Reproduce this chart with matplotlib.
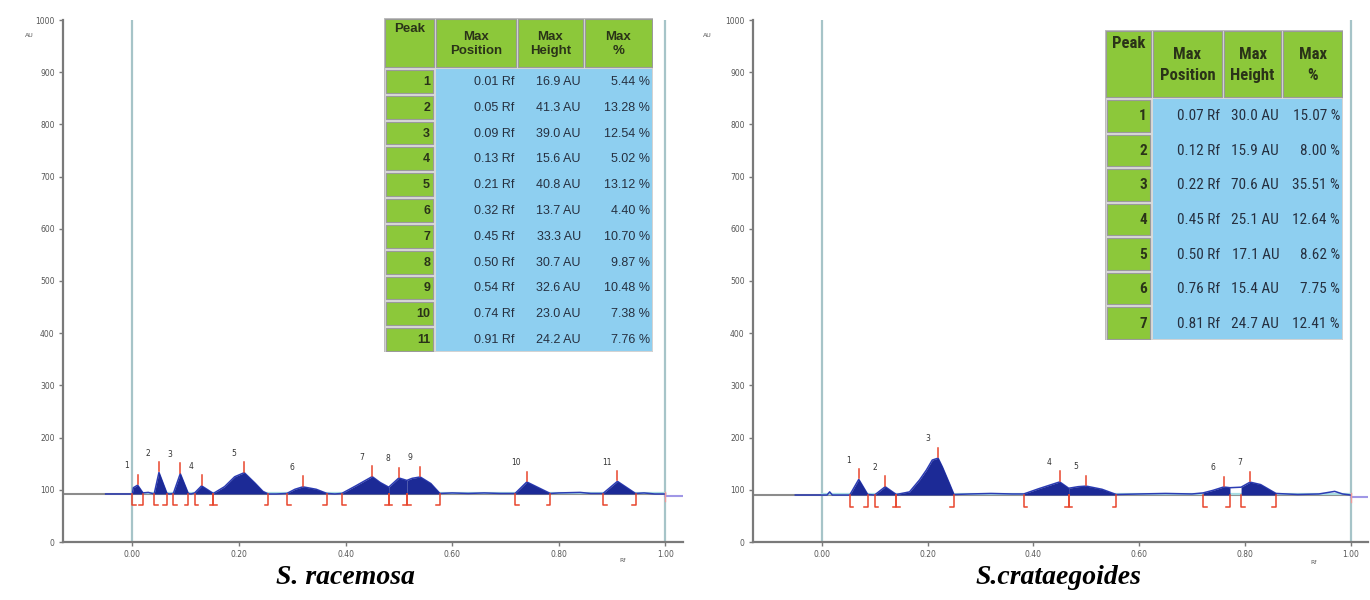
import matplotlib
matplotlib.use('Agg')
import matplotlib.pyplot as plt
from matplotlib.patches import Rectangle
import numpy as np

# ---------------- data: S. racemosa (left) ----------------
L_base = 92
L_rf = [-0.05, 0.0, 0.002, 0.01, 0.02, 0.03, 0.041, 0.05, 0.065, 0.07, 0.077, 0.09, 0.105, 0.11,
        0.117, 0.13, 0.152, 0.173, 0.192, 0.21, 0.23, 0.245, 0.255, 0.27, 0.29, 0.305, 0.32, 0.345,
        0.365, 0.38, 0.393, 0.42, 0.45, 0.465, 0.481, 0.50, 0.515, 0.525, 0.54, 0.56, 0.577, 0.60,
        0.63, 0.66, 0.69, 0.718, 0.74, 0.784, 0.80, 0.84, 0.86, 0.883, 0.91, 0.944, 0.96, 0.98, 1.0]
L_au = [92, 92, 104, 108.9, 94, 95, 92, 133.3, 93, 92, 93, 131.0, 93, 92,
        94, 107.6, 93, 106, 125, 132.8, 113, 97, 92, 92, 93, 101, 105.7, 101,
        93, 92, 93, 108, 125.3, 114, 105, 122.7, 118, 122, 124.6, 112, 93, 94,
        93, 94, 93, 93, 115.0, 93, 94, 95, 93, 93, 116.2, 93, 94, 92, 92]
L_peak = [1, 2, 3, 4, 5, 6, 7, 8, 9, 10, 11]
L_start = [0.0, 0.041, 0.077, 0.117, 0.152, 0.29, 0.393, 0.481, 0.515, 0.718, 0.883]
L_end = [0.02, 0.065, 0.105, 0.152, 0.255, 0.365, 0.481, 0.515, 0.577, 0.784, 0.944]
L_max_pos = [0.01, 0.05, 0.09, 0.13, 0.21, 0.32, 0.45, 0.50, 0.54, 0.74, 0.91]
L_max_h = [16.9, 41.3, 39.0, 15.6, 40.8, 13.7, 33.3, 30.7, 32.6, 23.0, 24.2]
L_max_pct = [5.44, 13.28, 12.54, 5.02, 13.12, 4.40, 10.70, 9.87, 10.48, 7.38, 7.76]

# ---------------- data: S. crataegoides (right) ----------------
R_base = 90
R_rf = [-0.05, 0.0, 0.01, 0.015, 0.02, 0.053, 0.07, 0.087, 0.1, 0.12, 0.141, 0.166, 0.185, 0.198,
        0.209, 0.22, 0.228, 0.241, 0.25, 0.28, 0.32, 0.36, 0.382, 0.41, 0.45, 0.467, 0.485, 0.50,
        0.53, 0.557, 0.6, 0.65, 0.7, 0.721, 0.74, 0.76, 0.772, 0.793, 0.81, 0.83, 0.859, 0.9,
        0.94, 0.97, 0.985, 1.0]
R_au = [90, 90, 90, 96, 90, 90, 120.0, 91, 90, 105.9, 91, 96, 119, 138,
        157, 160.6, 144, 113, 91, 92, 93, 92, 92, 102, 115.1, 103, 106, 107.1,
        101, 91, 92, 93, 92, 94, 99, 105.4, 104, 105, 114.7, 110, 93, 91,
        92, 97, 92, 90]
R_peak = [1, 2, 3, 4, 5, 6, 7]
R_start = [0.053, 0.1, 0.141, 0.382, 0.467, 0.721, 0.793]
R_end = [0.087, 0.141, 0.25, 0.467, 0.557, 0.772, 0.859]
R_max_pos = [0.07, 0.12, 0.22, 0.45, 0.50, 0.76, 0.81]
R_max_h = [30.0, 15.9, 70.6, 25.1, 17.1, 15.4, 24.7]
R_max_pct = [15.07, 8.00, 35.51, 12.64, 8.62, 7.75, 12.41]

x_ticks = [0.0, 0.2, 0.4, 0.6, 0.8, 1.0]
x_tick_labels = ['0.00', '0.20', '0.40', '0.60', '0.80', '1.00']
y_ticks = list(range(0, 1001, 100))
titles = ['S. racemosa', 'S.crataegoides']
headers = ['Peak', 'Max\nPosition', 'Max\nHeight', 'Max\n%']

# ---------------- styling ----------------
W, H = 1370, 600
fig = plt.figure(figsize=(W / 100, H / 100), dpi=100)
fig.patch.set_facecolor('white')

FILL = '#1c2a96'
LINE = '#2c3cb4'
RED = '#e8452c'
VLINE = '#a6c4c8'
GREEN = '#8cc83a'
BLUE = '#8ecff0'
AXC = '#7a7a7a'
TXT = '#263040'


def px_box(x0, y0, x1, y1):
    return [x0 / W, 1 - y1 / H, (x1 - x0) / W, (y1 - y0) / H]


def draw_panel(box, rf, au, base, peaks, starts, ends, mpos, mh, au_xy, rf_xy):
    ax = fig.add_axes(px_box(*box))
    ax.set_xlim(-0.13, 1.033)
    ax.set_ylim(0, 1000)
    for s in ['top', 'right']:
        ax.spines[s].set_visible(False)
    for s in ['left', 'bottom']:
        ax.spines[s].set_color(AXC)
        ax.spines[s].set_linewidth(1.6)
    ax.set_xticks(x_ticks)
    ax.set_xticklabels(x_tick_labels)
    ax.set_yticks(y_ticks)
    ax.tick_params(axis='both', colors=AXC, labelcolor='#555555', labelsize=5.5,
                   length=3, width=1, pad=3)
    for xv in (0.0, 1.0):
        ax.plot([xv, xv], [0, 1000], color=VLINE, lw=1.6, zorder=1)
    ax.plot([-0.13, 1.0], [base, base], color='#8c8c8c', lw=1.5, zorder=2)
    ax.plot([1.0, 1.033], [base - 3, base - 3], color='#a097e6', lw=1.5, zorder=2)
    ax.plot([0.0, 1.0], [base + 1, base + 1], color='#a8dce2', lw=1.6, zorder=2)
    rf_a = np.array(rf)
    au_a = np.array(au)
    ax.plot(rf_a, au_a, color=LINE, lw=1.1, zorder=3)
    for s, e in zip(starts, ends):
        m = (rf_a >= s - 1e-9) & (rf_a <= e + 1e-9)
        ax.fill_between(rf_a[m], base, au_a[m], color=FILL, lw=0, zorder=4)
    foot = 0.007
    for s, e in zip(starts, ends):
        ax.plot([s, s, s + foot], [base, base - 22, base - 22], color=RED, lw=1.1, zorder=5)
        ax.plot([e, e, e - foot], [base, base - 22, base - 22], color=RED, lw=1.1, zorder=5)
    ax.plot([1.0, 1.0], [base - 14, base + 4], color='#f09a9a', lw=1.0, zorder=5)
    for p, x, h in zip(peaks, mpos, mh):
        top = base + h
        ax.plot([x, x], [top + 2, top + 20], color=RED, lw=1.1, zorder=5)
        ax.text(x - 0.02, top + 37, str(p), fontsize=5.5, color='#333333',
                ha='center', va='center')
    ax.text(au_xy[0], au_xy[1], 'AU', fontsize=4.5, color='#555555',
            transform=ax.transAxes, ha='center', va='center')
    ax.text(rf_xy[0], rf_xy[1], 'Rf', fontsize=4.5, color='#555555',
            ha='center', va='center')
    return ax


draw_panel((63, 20, 683, 542), L_rf, L_au, L_base, L_peak, L_start, L_end,
           L_max_pos, L_max_h, (-0.055, 0.97), (0.92, -35))
draw_panel((753, 20, 1368, 542), R_rf, R_au, R_base, R_peak, R_start, R_end,
           R_max_pos, R_max_h, (-0.075, 0.97), (0.93, -40))


def draw_table(box, col_w, head_h, peaks, mpos, mh, mpct, fs_head, fs_body, family,
               peak_pad, lsp):
    x0, y0, x1, y1 = box
    tw, th = x1 - x0, y1 - y0
    tax = fig.add_axes(px_box(x0, y0, x1, y1))
    tax.set_xlim(0, tw)
    tax.set_ylim(th, 0)
    tax.axis('off')
    n = len(peaks)
    row_h = (th - head_h) / n
    edges = np.concatenate([[0], np.cumsum(col_w)])
    tax.add_patch(Rectangle((0, 0), tw, th, facecolor='#d9d9d9', edgecolor='#bdbdbd', lw=1))
    for j, htxt in enumerate(headers):
        tax.add_patch(Rectangle((edges[j] + 1, 1), col_w[j] - 2, head_h - 2,
                                facecolor=GREEN, edgecolor='#9a9a9a', lw=0.8))
        tax.text((edges[j] + edges[j + 1]) / 2, peak_pad if j == 0 else head_h / 2 + 1, htxt,
                 ha='center', va='top' if j == 0 else 'center', fontsize=fs_head,
                 fontweight='bold', color='#2a3318', family=family, linespacing=lsp)
    tax.add_patch(Rectangle((edges[1] + 1, head_h + 1), tw - edges[1] - 2, th - head_h - 2,
                            facecolor=BLUE, edgecolor='none'))
    for i in range(n):
        yt = head_h + i * row_h
        yc = yt + row_h / 2 + 1
        tax.add_patch(Rectangle((2, yt + 2), col_w[0] - 4, row_h - 3,
                                facecolor=GREEN, edgecolor='#9a9a9a', lw=0.8))
        tax.text(edges[1] - 5, yc, str(peaks[i]), ha='right', va='center',
                 fontsize=fs_body, fontweight='bold', color='#2a3318', family=family)
        vals = ['%.2f Rf' % mpos[i], '%.1f AU' % mh[i], '%.2f %%' % mpct[i]]
        for j, v in enumerate(vals):
            tax.text(edges[j + 2] - 3, yc, v, ha='right', va='center',
                     fontsize=fs_body, color=TXT, family=family)


draw_table((384, 18, 653, 352), [51, 82, 67, 69], 50, L_peak, L_max_pos, L_max_h,
           L_max_pct, 9.5, 9.0, ['Liberation Sans', 'DejaVu Sans'], 5, 1.2)
draw_table((1105, 30, 1343, 340), [47, 71, 59, 61], 68, R_peak, R_max_pos, R_max_h,
           R_max_pct, 12, 11,
           ['Roboto Condensed', 'Liberation Sans Narrow', 'Liberation Sans', 'DejaVu Sans'],
           6, 1.45)

fig.text(345 / W, 1 - 578 / H, titles[0], ha='center', va='center', fontsize=20,
         fontstyle='italic', fontweight='bold', family=['Liberation Serif', 'DejaVu Serif'])
fig.text(1058 / W, 1 - 578 / H, titles[1], ha='center', va='center', fontsize=20,
         fontstyle='italic', fontweight='bold', family=['Liberation Serif', 'DejaVu Serif'])

fig.savefig('out.png', dpi=100)
